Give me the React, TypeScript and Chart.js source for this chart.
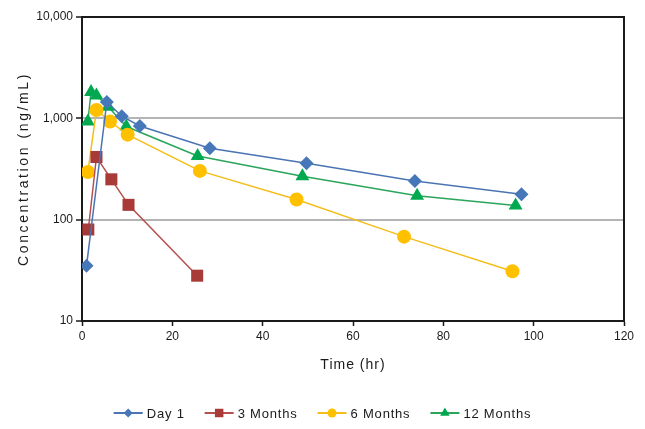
import React, { useEffect, useRef } from "react";
import { Chart, registerables } from "chart.js";

Chart.register(...registerables);

// ---- data ----
const seriesNames = ["Day 1", "3 Months", "6 Months", "12 Months"];

const day1Times = [1, 5.5, 8.8, 12.8, 28.3, 49.7, 73.7, 97.3];
const day1Values = [35, 1450, 1050, 840, 507, 360, 241, 178];

const month3Times = [1.4, 3.2, 6.5, 10.3, 25.5];
const month3Values = [80, 415, 250, 140, 28];

const month6Times = [1.3, 3.2, 6.2, 10.1, 26.1, 47.5, 71.3, 95.3];
const month6Values = [295, 1210, 930, 690, 303, 158, 68, 31];

const month12Times = [1.3, 2.0, 3.2, 5.8, 9.8, 25.6, 48.8, 74.2, 96.0];
const month12Values = [930, 1820, 1680, 1300, 830, 425, 268, 172, 138];

const xTicks = [0, 20, 40, 60, 80, 100, 120];
const yTicks = [10, 100, 1000, 10000];

const xTitle = "Time (hr)";
const yTitle = "Concentration (ng/mL)";

const lineColors = ["#4A74B4", "#B5504C", "#F5BD1A", "#2AA55A"];
const markerColors = ["#4677B8", "#A83A38", "#FFC000", "#00A850"];
const markerStyles = ["rectRot", "rect", "circle", "triangle"];
const markerRadii = [7, 8.5, 7, 8];
const legendRadii = [4.5, 6, 4.5, 5.5];

const FONT = "'Liberation Sans', Arial, sans-serif";

function toPoints(t: number[], v: number[]) {
  return t.map((x, i) => ({ x, y: v[i] }));
}

const allTimes = [day1Times, month3Times, month6Times, month12Times];
const allValues = [day1Values, month3Values, month6Values, month12Values];

function drawMarker(ctx: CanvasRenderingContext2D, style: string, x: number, y: number, r: number) {
  ctx.beginPath();
  if (style === "rectRot") {
    ctx.moveTo(x, y - r);
    ctx.lineTo(x + r, y);
    ctx.lineTo(x, y + r);
    ctx.lineTo(x - r, y);
    ctx.closePath();
  } else if (style === "rect") {
    const s = r * Math.SQRT1_2;
    ctx.rect(x - s, y - s, 2 * s, 2 * s);
  } else if (style === "circle") {
    ctx.arc(x, y, r, 0, Math.PI * 2);
  } else {
    ctx.moveTo(x, y - r);
    ctx.lineTo(x + r * Math.sin(Math.PI / 3), y + r / 2);
    ctx.lineTo(x - r * Math.sin(Math.PI / 3), y + r / 2);
    ctx.closePath();
  }
  ctx.fill();
}

const framePlugin = {
  id: "frame",
  beforeDatasetsDraw(chart: any) {
    const { ctx, chartArea } = chart;
    ctx.save();
    ctx.strokeStyle = "#1a1a1a";
    ctx.lineWidth = 2;
    ctx.strokeRect(chartArea.left, chartArea.top, chartArea.right - chartArea.left, chartArea.bottom - chartArea.top);
    ctx.restore();
  },
  afterDraw(chart: any) {
    const { ctx, chartArea } = chart;
    ctx.save();
    ctx.fillStyle = "#1a1a1a";
    ctx.textBaseline = "middle";
    ctx.textAlign = "center";
    // y title
    ctx.font = `14px ${FONT}`;
    (ctx as any).letterSpacing = "2.6px";
    ctx.save();
    ctx.translate(24, (chartArea.top + chartArea.bottom) / 2);
    ctx.rotate(-Math.PI / 2);
    ctx.fillText(yTitle, 0, 0);
    ctx.restore();
    // x title
    (ctx as any).letterSpacing = "1px";
    ctx.font = `14px ${FONT}`;
    ctx.fillText(xTitle, (chartArea.left + chartArea.right) / 2, chartArea.bottom + 44);

    // legend
    ctx.font = `13px ${FONT}`;
    (ctx as any).letterSpacing = "0.8px";
    const iconW = 29;
    const iconGap = 4;
    const itemGap = 20;
    const widths = seriesNames.map((n) => ctx.measureText(n).width);
    const total = widths.reduce((a, w) => a + iconW + iconGap + w, 0) + itemGap * (seriesNames.length - 1);
    let x = chart.width / 2 - total / 2;
    const y = chartArea.bottom + 92;
    ctx.textAlign = "left";
    seriesNames.forEach((name, i) => {
      ctx.strokeStyle = lineColors[i];
      ctx.lineWidth = 2;
      ctx.beginPath();
      ctx.moveTo(x, y);
      ctx.lineTo(x + iconW, y);
      ctx.stroke();
      ctx.fillStyle = markerColors[i];
      drawMarker(ctx, markerStyles[i], x + iconW / 2, y, legendRadii[i]);
      ctx.fillStyle = "#1a1a1a";
      ctx.fillText(name, x + iconW + iconGap, y + 1);
      x += iconW + iconGap + widths[i] + itemGap;
    });
    ctx.restore();
  },
};

export default function App() {
  const ref = useRef<HTMLCanvasElement | null>(null);

  useEffect(() => {
    document.body.style.margin = "0";
    const canvas = ref.current;
    if (!canvas) return;
    const datasets = seriesNames.map((name, i) => ({
      label: name,
      data: toPoints(allTimes[i], allValues[i]),
      borderColor: lineColors[i],
      backgroundColor: markerColors[i],
      pointBackgroundColor: markerColors[i],
      pointBorderColor: markerColors[i],
      pointBorderWidth: 0,
      pointStyle: markerStyles[i] as any,
      pointRadius: markerRadii[i],
      borderWidth: 1.5,
      showLine: true,
      tension: 0,
    }));

    const chart = new Chart(canvas, {
      type: "scatter",
      data: { datasets },
      plugins: [framePlugin],
      options: {
        responsive: false,
        animation: false,
        devicePixelRatio: 1,
        layout: { padding: { top: 17, right: 21, left: 0, bottom: 78 } },
        plugins: {
          legend: { display: false },
          tooltip: { enabled: false },
        },
        scales: {
          x: {
            type: "linear",
            min: 0,
            max: 120,
            afterBuildTicks: (scale: any) => {
              scale.ticks = xTicks.map((v) => ({ value: v }));
            },
            afterFit: (scale: any) => {
              scale.height = 30;
            },
            ticks: {
              color: "#1a1a1a",
              font: { family: FONT, size: 12 },
              padding: 3,
              maxRotation: 0,
              autoSkip: false,
            },
            grid: {
              drawOnChartArea: false,
              tickColor: "#1a1a1a",
              tickLength: 5,
              tickWidth: 1.5,
            },
            border: { display: true, color: "#1a1a1a", width: 2 },
          },
          y: {
            type: "logarithmic",
            min: 10,
            max: 10000,
            afterBuildTicks: (scale: any) => {
              scale.ticks = yTicks.map((v) => ({ value: v, major: true }));
            },
            afterFit: (scale: any) => {
              scale.width = 82;
            },
            ticks: {
              color: "#1a1a1a",
              font: { family: FONT, size: 12 },
              padding: 3,
              autoSkip: false,
              callback: (v: any) => Number(v).toLocaleString("en-US"),
            },
            grid: {
              drawOnChartArea: true,
              color: (c: any) => {
                const v = c.tick ? c.tick.value : null;
                return v === 100 || v === 1000 ? "#B4B4B4" : "rgba(0,0,0,0)";
              },
              lineWidth: 2,
              tickColor: "#1a1a1a",
              tickLength: 6,
              tickWidth: 1.5,
            },
            border: { display: true, color: "#1a1a1a", width: 2 },
          },
        },
      },
    });
    return () => chart.destroy();
  }, []);

  return (
    <div style={{ position: "fixed", left: 0, top: 0, width: 645, height: 429, background: "#fff" }}>
      <canvas ref={ref} width={645} height={429} />
    </div>
  );
}
